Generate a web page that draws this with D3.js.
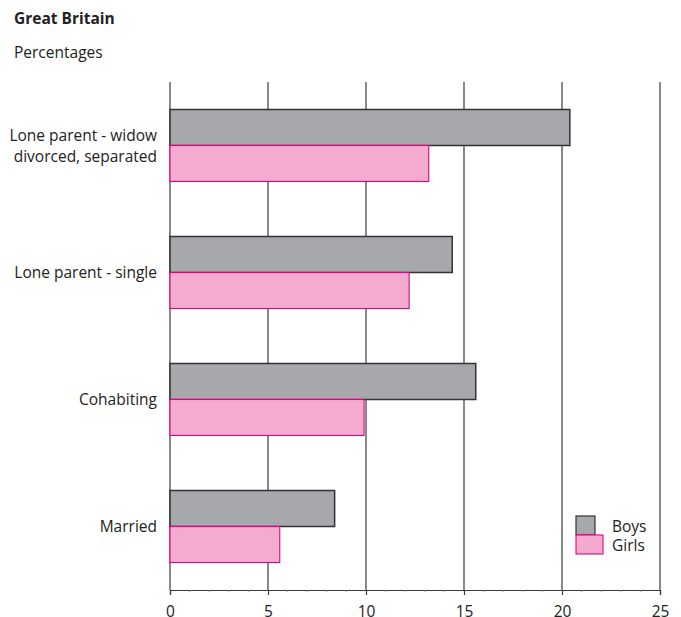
<!DOCTYPE html>
<html>
<head>
<meta charset="utf-8">
<script src="https://cdn.jsdelivr.net/npm/d3@7"></script>
<style>
  body { margin: 0; background: #fff; }
  text { font-family: "Open Sans", "Noto Sans", sans-serif; fill: #222; }
</style>
</head>
<body>
<div id="chart"></div>
<script>
// data
var categories = ["Lone parent - widow\ndivorced, separated", "Lone parent - single", "Cohabiting", "Married"];
var boys = [20.4, 14.4, 15.6, 8.4];
var girls = [13.2, 12.2, 9.9, 5.6];
var xTicks = [0, 5, 10, 15, 20, 25];
var seriesNames = ["Boys", "Girls"];

var width = 681, height = 617;
var plotLeft = 170, plotRight = 660, plotTop = 82, plotBottom = 590;
var fs = "15.5px";

var svg = d3.select("#chart")
    .append("svg")
    .attr("width", width)
    .attr("height", height);

svg.append("text")
    .attr("x", 14).attr("y", 24)
    .style("font-size", fs)
    .style("font-weight", "bold")
    .text("Great Britain");

svg.append("text")
    .attr("x", 14).attr("y", 58)
    .style("font-size", fs)
    .text("Percentages");

var x = d3.scaleLinear().domain([0, 25]).range([plotLeft, plotRight]);

var y0 = d3.scaleBand()
    .domain(categories)
    .range([plotTop, plotBottom])
    .paddingInner(0.433)
    .paddingOuter(0.2165);

var y1 = d3.scaleBand()
    .domain(seriesNames)
    .range([0, y0.bandwidth()]);

// vertical grid lines
svg.selectAll(".grid")
    .data(xTicks)
    .enter()
    .append("line")
    .attr("x1", d => x(d)).attr("x2", d => x(d))
    .attr("y1", plotTop).attr("y2", plotBottom)
    .attr("stroke", "#3a3a3a")
    .attr("stroke-width", 1.2);

var rows = categories.map(function(c, i) {
    return { cat: c, values: [{ s: "Boys", v: boys[i] }, { s: "Girls", v: girls[i] }] };
});

var groups = svg.selectAll(".grp")
    .data(rows)
    .enter()
    .append("g")
    .attr("transform", d => "translate(0," + y0(d.cat) + ")");

groups.selectAll("rect")
    .data(d => d.values)
    .enter()
    .append("rect")
    .attr("x", x(0))
    .attr("y", d => y1(d.s))
    .attr("width", d => x(d.v) - x(0))
    .attr("height", y1.bandwidth())
    .attr("fill", d => d.s === "Boys" ? "#a7a8ac" : "#f5abcf")
    .attr("stroke", d => d.s === "Boys" ? "#333333" : "#e5007e")
    .attr("stroke-width", d => d.s === "Boys" ? 1.5 : 1.1);

// category labels
groups.each(function(d) {
    var lines = d.cat.split("\n");
    var t = d3.select(this).append("text")
        .attr("text-anchor", "end")
        .style("font-size", fs);
    var cy = y0.bandwidth() / 2;
    var start = cy + 6 - (lines.length - 1) * 10.5;
    lines.forEach(function(l, k) {
        t.append("tspan")
            .attr("x", plotLeft - 13)
            .attr("y", start + k * 21)
            .text(l);
    });
});

// x axis
var axis = d3.axisBottom(x)
    .tickValues(xTicks)
    .tickSize(5)
    .tickPadding(11)
    .tickFormat(d3.format("d"));

var gx = svg.append("g")
    .attr("transform", "translate(0," + plotBottom + ")")
    .call(axis);
gx.select(".domain").attr("stroke", "#3a3a3a").attr("stroke-width", 1.2);
gx.selectAll(".tick line").attr("stroke", "#3a3a3a").attr("stroke-width", 1.2);
gx.selectAll(".tick text")
    .style("font-family", "'Open Sans', 'Noto Sans', sans-serif")
    .style("font-size", fs)
    .attr("fill", "#222");

// minor ticks
svg.selectAll(".minor")
    .data(d3.range(0, 26).filter(d => d % 5 !== 0))
    .enter()
    .append("line")
    .attr("x1", d => x(d)).attr("x2", d => x(d))
    .attr("y1", plotBottom).attr("y2", plotBottom + 2)
    .attr("stroke", "#888")
    .attr("stroke-width", 0.8);

// legend
var legend = svg.append("g");
legend.append("rect")
    .attr("x", 576).attr("y", 516).attr("width", 19).attr("height", 19)
    .attr("fill", "#a7a8ac").attr("stroke", "#333").attr("stroke-width", 1.2);
legend.append("rect")
    .attr("x", 576).attr("y", 535).attr("width", 27).attr("height", 19)
    .attr("fill", "#f5abcf").attr("stroke", "#e5007e").attr("stroke-width", 1.1);
legend.selectAll(".lt")
    .data(seriesNames)
    .enter()
    .append("text")
    .attr("x", 612)
    .attr("y", (d, i) => 532 + i * 19)
    .style("font-size", fs)
    .text(d => d);
</script>
</body>
</html>
